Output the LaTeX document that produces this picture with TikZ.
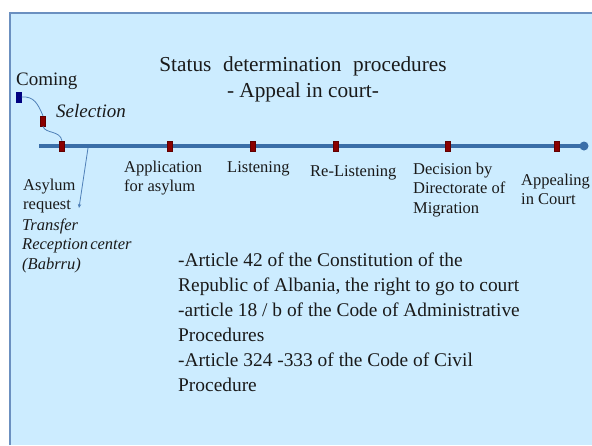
\documentclass[tikz,border=0pt]{standalone}
\usepackage{fontspec}
\setmainfont{Liberation Serif}
\usetikzlibrary{arrows.meta}
\definecolor{bgblue}{HTML}{CCECFF}
\definecolor{edgeblue}{HTML}{6B90C0}
\definecolor{lineblue}{HTML}{3A6EA8}
\definecolor{thinblue}{HTML}{4F80B8}
\definecolor{markred}{HTML}{8B0000}
\definecolor{marknavy}{HTML}{000080}
\definecolor{txt}{HTML}{1A1A1A}
\tikzset{
  small/.style={font=\fontsize{16.5}{19.5}\selectfont, text=txt, inner sep=0pt, align=left, anchor=north west},
  body/.style={font=\fontsize{19.4}{25}\selectfont, text=txt, inner sep=0pt, align=left},
  marker/.style={draw=markred!70!black, line width=0.4pt, fill=markred, minimum width=5pt, minimum height=10pt, inner sep=0pt},
  thin/.style={draw=thinblue, line width=0.8pt},
}
\begin{document}
\begin{tikzpicture}[x=1pt,y=-1pt]
\useasboundingbox (0,0) rectangle (592,445);
\fill[white] (0,0) rectangle (592,445);
\fill[bgblue] (10,13) rectangle (592,445);
\draw[edgeblue, line width=1.2pt] (10,445) -- (10,13) -- (592,13);

% title
\node[font=\fontsize{21.3}{26}\selectfont, text=txt, inner sep=0pt, align=center, anchor=north] (title) at (303,56.5)
  {Status\hspace{0.55em}determination\hspace{0.55em}procedures\\- Appeal in court-};

% timeline
\coordinate (tstart) at (39,146);
\coordinate (tend) at (584,146);
\draw[lineblue, line width=4pt] (tstart) -- (tend);
\fill[lineblue] (tend) circle (4.5);

\node[marker] (m0) at (62,146) {};
\node[marker] (m1) at (170,146) {};
\node[marker] (m2) at (253,146) {};
\node[marker] (m3) at (336,146) {};
\node[marker] (m4) at (448,146) {};
\node[marker] (m5) at (557,146) {};

% coming / selection
\node[marker, fill=marknavy, draw=marknavy] (come) at (19,97) {};
\node[marker] (sel) at (43,121) {};
\draw[thin] (come.east) .. controls (34,96) and (38,104) .. (sel.north);
\draw[thin] (sel.south) .. controls (45,134) and (60,130) .. (m0.north);

\node[body, anchor=base west, font=\fontsize{19}{25}\selectfont] (coming) at (16,85) {Coming};
\node[body, anchor=base west, font=\fontsize{19}{25}\selectfont\itshape] (selection) at (56,117) {Selection};

% arrow down
\coordinate (a1) at (88,148);
\coordinate (a2) at (79,208);
\draw[thin, -{Stealth[length=4pt,width=3.5pt]}] (a1) -- (a2);

% labels
\node[small] (asylum) at (23,178.7) {Asylum\\request};
\node[small, font=\fontsize{16.5}{19.5}\selectfont\itshape] (transfer) at (22,218.2) {Transfer\\Reception\hspace{-0.12em} center\\(Babrru)};
\node[small] (app) at (124,160.7) {Application\\for asylum};
\node[small] (listen) at (227,161.7) {Listening};
\node[small] (relisten) at (310,165.7) {Re-Listening};
\node[small] (decision) at (413,162.7) {Decision by\\Directorate of\\Migration};
\node[small] (appeal) at (521,173.7) {Appealing\\in Court};

% body
\node[body, anchor=north west] (articles) at (178,253)
  {-Article 42 of the Constitution of the\\
   Republic of Albania, the right to go to court\\
   -article 18 / b of the Code of Administrative\\
   Procedures\\
   -Article 324 -333 of the Code of Civil\\
   Procedure};
\end{tikzpicture}
\end{document}
